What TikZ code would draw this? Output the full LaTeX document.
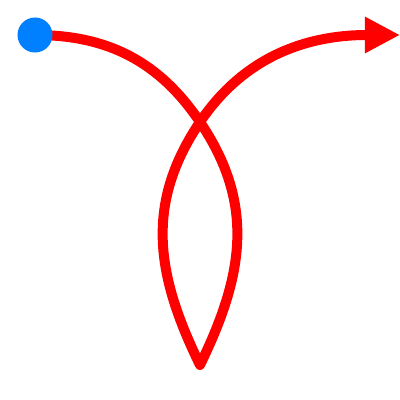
\documentclass[tikz,border=0pt]{standalone}
\usetikzlibrary{arrows.meta}
\definecolor{dotblue}{HTML}{0080FF}
\definecolor{routered}{HTML}{FF0000}

\begin{document}
\begin{tikzpicture}[x=0.025cm,y=-0.025cm,
  route/.style={draw=routered,line width=7.1pt,line join=round,
    -{Triangle[length=0.875cm,width=0.85cm]}},
  startdot/.style={circle,fill=dotblue,inner sep=0pt,minimum size=0.875cm}]
\useasboundingbox (0,0) rectangle (400,400);
\coordinate (start) at (35,35);
\coordinate (cross) at (200,122);
\coordinate (cusp) at (200,365);
\coordinate (tip) at (400,35);
\draw[route] (start) to[out=0,in=124] (cross)
  to[out=-56,in=64,looseness=1.05] (cusp)
  to[out=116,in=-124,looseness=1.05] (cross) to[out=56,in=180] (tip);
\node[startdot] (origin) at (start) {};
\end{tikzpicture}
\end{document}
